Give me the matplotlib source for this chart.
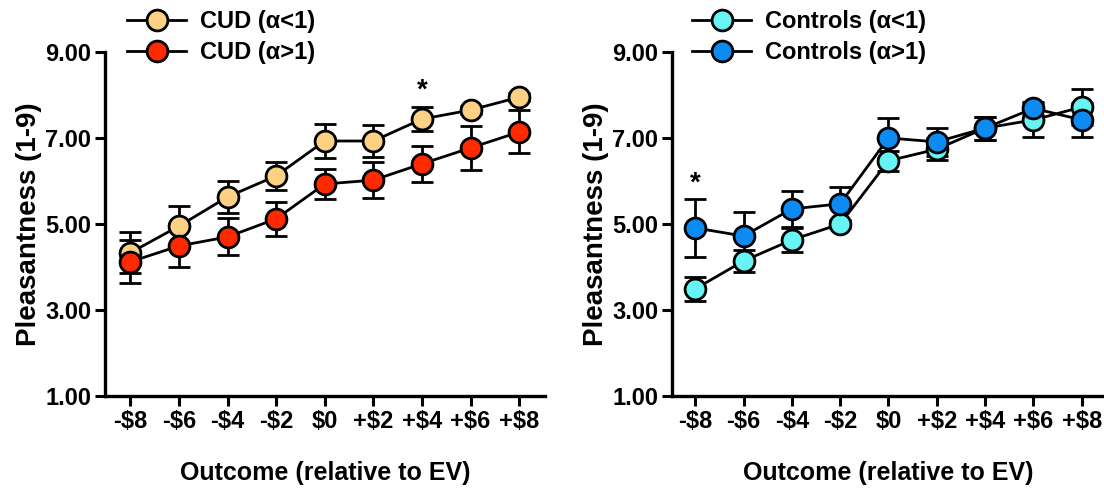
import matplotlib.pyplot as plt
from matplotlib.lines import Line2D
import numpy as np

plt.rcParams['font.family'] = ['Liberation Sans', 'DejaVu Sans']
plt.rcParams['font.weight'] = 'bold'

outcomes = ["-$8", "-$6", "-$4", "-$2", "$0", "+$2", "+$4", "+$6", "+$8"]

cud_lo = [4.33, 4.95, 5.63, 6.12, 6.93, 6.93, 7.44, 7.65, 7.95]
cud_lo_err = [0.48, 0.48, 0.37, 0.32, 0.40, 0.37, 0.28, 0.10, 0.10]
cud_hi = [4.12, 4.49, 4.70, 5.12, 5.93, 6.02, 6.40, 6.77, 7.14]
cud_hi_err = [0.50, 0.50, 0.43, 0.40, 0.35, 0.42, 0.42, 0.51, 0.50]

ctl_lo = [3.49, 4.14, 4.63, 5.00, 6.47, 6.74, 7.23, 7.42, 7.72]
ctl_lo_err = [0.28, 0.26, 0.27, 0.10, 0.23, 0.25, 0.27, 0.40, 0.42]
ctl_hi = [4.91, 4.72, 5.35, 5.47, 7.00, 6.91, 7.23, 7.69, 7.42]
ctl_hi_err = [0.67, 0.55, 0.42, 0.40, 0.46, 0.32, 0.27, 0.15, 0.40]

W, H = 1104, 493
fig = plt.figure(figsize=(W / 100, H / 100), dpi=100)
ax1 = fig.add_axes([105 / W, 1 - 396 / H, 440 / W, 344 / H])
ax2 = fig.add_axes([672 / W, 1 - 396 / H, 432 / W, 344 / H])

x = np.arange(len(outcomes))


def draw(ax, series, xlim, leg_x):
    handles = []
    for vals, errs, color, label in series:
        ax.errorbar(x, vals, yerr=errs, fmt='-o', color='black', lw=2,
                    mfc=color, mec='black', mew=2, ms=15,
                    ecolor='black', elinewidth=2, capsize=8, capthick=2)
        handles.append(Line2D([], [], color='black', lw=2, marker='o', ms=15,
                              mfc=color, mec='black', mew=2, label=label))
    ax.set_xlim(*xlim)
    ax.set_ylim(1, 9)
    ax.set_yticks([1, 3, 5, 7, 9])
    ax.set_yticklabels(["1.00", "3.00", "5.00", "7.00", "9.00"])
    ax.set_xticks(x)
    ax.set_xticklabels(outcomes)
    for s in ['top', 'right']:
        ax.spines[s].set_visible(False)
    for s in ['left', 'bottom']:
        ax.spines[s].set_linewidth(2.4)
    ax.tick_params(width=2.2, length=7, labelsize=17, pad=3)
    ax.set_ylabel("Pleasantness (1-9)", fontsize=20, fontweight='bold', labelpad=2)
    ax.set_xlabel("Outcome (relative to EV)", fontsize=18, fontweight='bold', labelpad=20)
    for lab in ax.get_xticklabels() + ax.get_yticklabels():
        lab.set_fontweight('bold')
    ax.legend(handles=handles, loc='upper left', bbox_to_anchor=(leg_x / W, 1 - 10 / H),
              bbox_transform=fig.transFigure, frameon=False,
              fontsize=17, handlelength=2.5, labelspacing=0.35,
              handletextpad=0.6, borderaxespad=0, borderpad=0)


draw(ax1, [(cud_lo, cud_lo_err, '#FCD184', 'CUD (α<1)'),
           (cud_hi, cud_hi_err, '#FF2A00', 'CUD (α>1)')], (-0.52, 8.53), 127)
ax1.text(6, 8.1, "*", ha='center', va='center', fontsize=20)

draw(ax2, [(ctl_lo, ctl_lo_err, '#66F4F4', 'Controls (α<1)'),
           (ctl_hi, ctl_hi_err, '#0C8CF2', 'Controls (α>1)')], (-0.48, 8.46), 692)
ax2.text(0, 5.95, "*", ha='center', va='center', fontsize=20)

fig.savefig("out.png", dpi=100)
